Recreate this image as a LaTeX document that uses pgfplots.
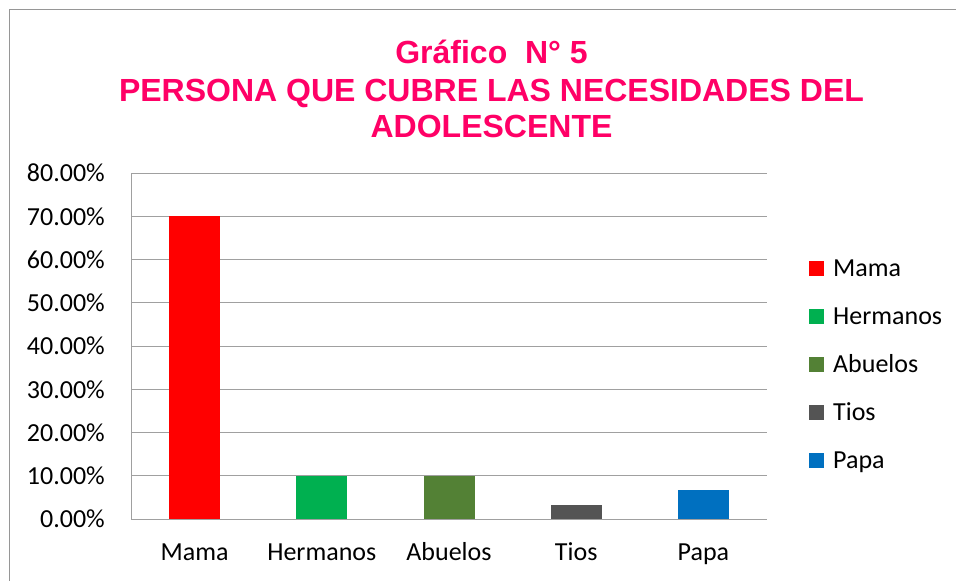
\documentclass[border=0pt]{standalone}
\usepackage{fontspec}
\setmainfont{Carlito}
\newfontfamily\titlefont{Liberation Sans}
\usepackage{pgfplots}
\pgfplotsset{compat=1.18}
\definecolor{cMama}{HTML}{FF0000}
\definecolor{cHerm}{HTML}{00B050}
\definecolor{cAbue}{HTML}{538135}
\definecolor{cTios}{HTML}{545454}
\definecolor{cPapa}{HTML}{0070C0}
\definecolor{cTitle}{HTML}{FF0066}
\definecolor{cGrid}{HTML}{A0A0A0}
\definecolor{cFrame}{HTML}{969696}
\newcommand{\lblfont}{\fontsize{26bp}{31bp}\selectfont}
\begin{document}
\begin{tikzpicture}
\path[use as bounding box] (0,0) rectangle (956bp,581bp);
\draw[color=cFrame, line width=1.2bp] (9.5bp,0bp) -- (9.5bp,571.5bp) -- (956bp,571.5bp);
\node[anchor=base, text=cTitle, font=\titlefont\bfseries\fontsize{32bp}{38bp}\selectfont] at (491.5bp,517bp) {Gráfico\ \ N° 5};
\node[anchor=base, text=cTitle, font=\titlefont\bfseries\fontsize{32bp}{38bp}\selectfont] at (491.5bp,479.5bp) {PERSONA QUE CUBRE LAS NECESIDADES DEL};
\node[anchor=base, text=cTitle, font=\titlefont\bfseries\fontsize{32bp}{38bp}\selectfont] at (491.5bp,443bp) {ADOLESCENTE};
\begin{axis}[
  at={(131bp,62bp)}, anchor=south west,
  scale only axis, width=636bp, height=346bp,
  xmin=-0.5, xmax=4.5, ymin=0, ymax=80,
  ybar, bar width=51bp,
  xtick={0,1,2,3,4},
  xticklabels={Mama,Hermanos,Abuelos,Tios,Papa},
  ytick={0,10,20,30,40,50,60,70,80},
  yticklabels={0.00\%,10.00\%,20.00\%,30.00\%,40.00\%,50.00\%,60.00\%,70.00\%,80.00\%},
  major tick length=0pt,
  tick style={draw=none},
  ymajorgrids,
  grid style={color=cGrid, line width=1bp},
  axis x line*=bottom, axis y line*=left,
  axis line style={color=cGrid, line width=1bp, -},
  yticklabel style={font=\lblfont, inner sep=0pt, anchor=east, xshift=-26bp},
  xticklabel style={font=\lblfont, inner sep=0pt, anchor=north, text height=17bp, text depth=6bp, yshift=-24bp},
  legend image code/.code={\fill[#1] (0bp,0bp) rectangle (15bp,15bp);},
  legend style={draw=none, fill=none, font=\lblfont, inner sep=0pt,
    at={(1.066,0.7543)}, anchor=north west,
    nodes={inner sep=0pt, text height=18bp, text depth=6bp, anchor=base west},
    row sep=24bp,
    /tikz/every odd column/.append style={column sep=9bp}},
]
\addplot[fill=cMama, draw=none, bar shift=0pt] coordinates {(0,70)};
\addplot[fill=cHerm, draw=none, bar shift=0pt] coordinates {(1,10)};
\addplot[fill=cAbue, draw=none, bar shift=0pt] coordinates {(2,10)};
\addplot[fill=cTios, draw=none, bar shift=0pt] coordinates {(3,3.33)};
\addplot[fill=cPapa, draw=none, bar shift=0pt] coordinates {(4,6.67)};
\legend{Mama,Hermanos,Abuelos,Tios,Papa}
\end{axis}
\end{tikzpicture}
\end{document}
